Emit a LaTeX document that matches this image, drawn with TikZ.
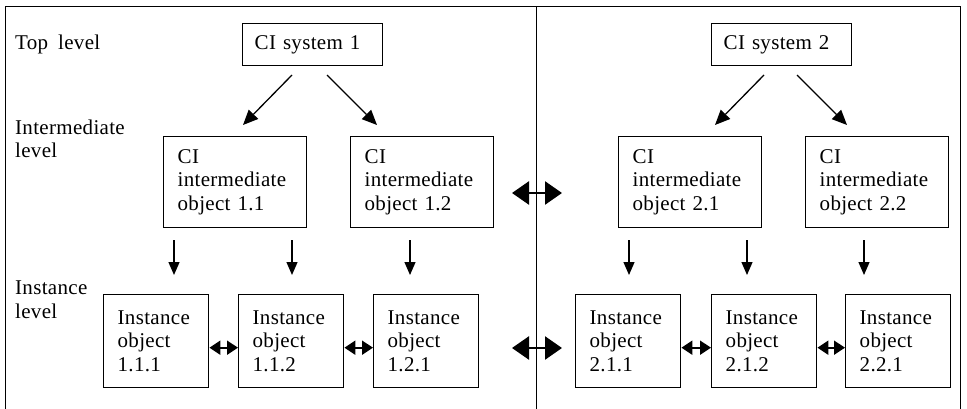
\documentclass[tikz,border=0pt]{standalone}
\usepackage{fontspec}
\setmainfont{Liberation Serif}[LetterSpace=1.5,WordSpace=1.8]
\usetikzlibrary{arrows.meta}
\begin{document}
\begin{tikzpicture}[x=1pt,y=-1pt,
  every node/.style={font=\fontsize{21pt}{23.5pt}\selectfont},
  box/.style={draw,line width=1.4pt,inner xsep=14pt,inner ysep=0pt,align=left,anchor=north west},
  topbox/.style={box,inner xsep=12pt,text width=116pt,minimum height=42pt},
  midbox/.style={box,text width=115pt,minimum height=91pt},
  instbox/.style={box,text width=77pt,minimum height=93pt},
  lbl/.style={inner sep=0pt,anchor=base west,align=left},
  frame/.style={line width=1pt},
  downar/.style={line width=1.3pt,-{Triangle[length=13pt,width=11pt]}},
  diagar/.style={line width=1.3pt,-{Triangle[length=15pt,width=13pt]}},
  bigar/.style={line width=2.5pt,{Triangle[length=17pt,width=23pt]}-{Triangle[length=17pt,width=23pt]}},
  smallar/.style={line width=2pt,{Triangle[length=11pt,width=14pt]}-{Triangle[length=11pt,width=14pt]}}]
\useasboundingbox (0,0) rectangle (967,409);
% frame
\draw[frame] (5,409) -- (5,7) -- (960,7) -- (960,409);
\draw[frame] (536,7) -- (536,409);
% level labels (base = baseline of last line)
\node[lbl] (ltop) at (15,50) {Top level};
\node[lbl] (lmid) at (15,158) {Intermediate\\level};
\node[lbl] (linst) at (15,318) {Instance\\level};
% top boxes
\node[topbox] (s1) at (242,23) {CI system 1};
\node[topbox] (s2) at (711,23) {CI system 2};
% intermediate boxes
\node[midbox] (i11) at (163,136) {CI\\intermediate\\object 1.1};
\node[midbox] (i12) at (350,136) {CI\\intermediate\\object 1.2};
\node[midbox] (i21) at (618,136) {CI\\intermediate\\object 2.1};
\node[midbox] (i22) at (805,136) {CI\\intermediate\\object 2.2};
% instance boxes
\node[instbox] (o111) at (103,294) {Instance\\object\\1.1.1};
\node[instbox] (o112) at (238,294) {Instance\\object\\1.1.2};
\node[instbox] (o121) at (373,294) {Instance\\object\\1.2.1};
\node[instbox] (o211) at (575,294) {Instance\\object\\2.1.1};
\node[instbox] (o212) at (711,294) {Instance\\object\\2.1.2};
\node[instbox] (o221) at (845,294) {Instance\\object\\2.2.1};
% diagonal arrows
\coordinate (a1s) at (292,75); \coordinate (a1e) at (243,125);
\coordinate (a2s) at (327,75); \coordinate (a2e) at (377,125);
\coordinate (a3s) at (764,75); \coordinate (a3e) at (715,125);
\coordinate (a4s) at (797,75); \coordinate (a4e) at (847,125);
\draw[diagar] (a1s) -- (a1e);
\draw[diagar] (a2s) -- (a2e);
\draw[diagar] (a3s) -- (a3e);
\draw[diagar] (a4s) -- (a4e);
% down arrows
\foreach \x [count=\i] in {174,292,410,629,747,864}{
  \coordinate (d\i s) at (\x,240);
  \coordinate (d\i e) at (\x,275);
  \draw[downar] (d\i s) -- (d\i e);
}
% big double arrows
\coordinate (b1l) at (512,193); \coordinate (b1r) at (562,193);
\coordinate (b2l) at (512,348); \coordinate (b2r) at (562,348);
\draw[bigar] (b1l) -- (b1r);
\draw[bigar] (b2l) -- (b2r);
% small double arrows
\draw[smallar] ([yshift=-6.5pt]o111.east) -- ([yshift=-6.5pt]o112.west);
\draw[smallar] ([yshift=-6.5pt]o112.east) -- ([yshift=-6.5pt]o121.west);
\draw[smallar] ([yshift=-6.5pt]o211.east) -- ([yshift=-6.5pt]o212.west);
\draw[smallar] ([yshift=-6.5pt]o212.east) -- ([yshift=-6.5pt]o221.west);
\end{tikzpicture}
\end{document}
